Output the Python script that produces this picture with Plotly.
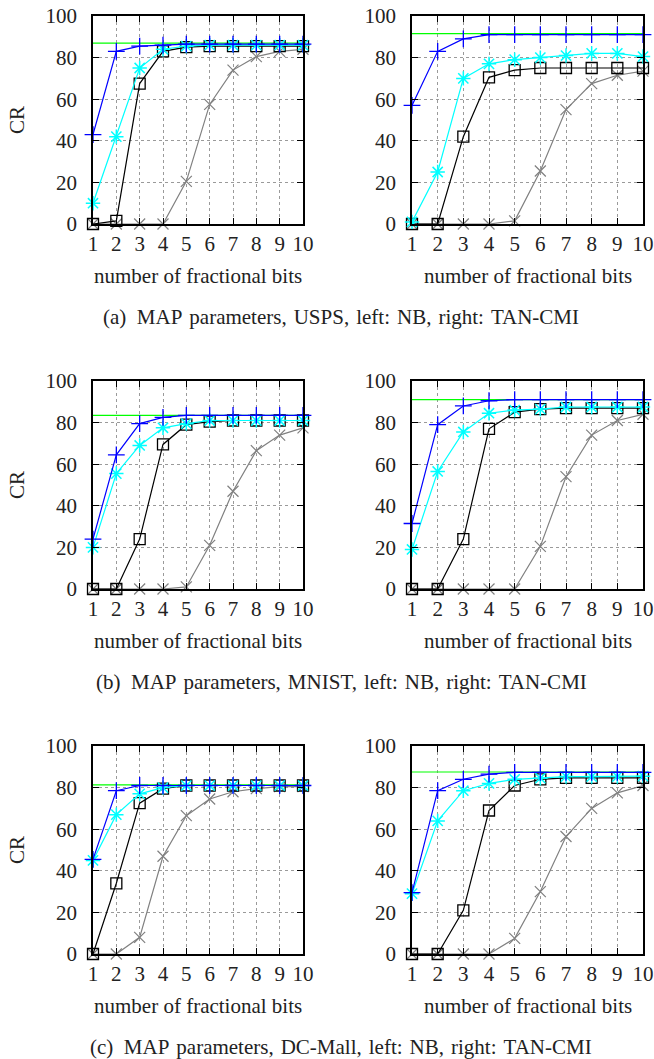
import plotly.graph_objects as go

# ---------------- data ----------------
x_bits = [1, 2, 3, 4, 5, 6, 7, 8, 9, 10]
tick_vals_x = [1, 2, 3, 4, 5, 6, 7, 8, 9, 10]
tick_vals_y = [0, 20, 40, 60, 80, 100]

# (a) USPS
usps_nb_plus = [43, 83, 85.5, 86, 86.5, 86.5, 86.5, 86.5, 86.5, 86.5]
usps_nb_star = [10, 42, 75, 84, 85.5, 86, 86, 86, 86, 86]
usps_nb_square = [0, 1.5, 67.5, 83, 85, 85.5, 85.5, 85.5, 85.5, 85.5]
usps_nb_cross = [0, 0, 0, 0, 20.5, 57.5, 74, 80.5, 83, 84]
usps_nb_ref = 87

usps_tan_plus = [57, 83, 89, 91, 91, 91, 91, 91, 91, 91]
usps_tan_star = [1, 25, 70, 77, 79, 80, 81, 82, 82, 80.5]
usps_tan_square = [0, 0, 42, 70.5, 74, 75, 75, 75, 75, 75]
usps_tan_cross = [0, 0, 0, 0, 1.5, 25.5, 55, 67.5, 71.5, 73.5]
usps_tan_ref = 91.5

# (b) MNIST
mnist_nb_plus = [24, 64.5, 79.5, 82.5, 83.5, 83.5, 83.5, 83.5, 83.5, 83.5]
mnist_nb_star = [20, 55.5, 69, 77.5, 79.5, 81, 81, 81, 81, 81]
mnist_nb_square = [0, 0, 24, 69.5, 79, 80.5, 81, 81, 81, 81]
mnist_nb_cross = [0, 0, 0, 0, 1, 21, 47, 66.5, 74, 77.5]
mnist_nb_ref = 83.5

mnist_tan_plus = [31.5, 79, 88, 90.5, 91, 91, 91, 91, 91, 91]
mnist_tan_star = [19, 56.5, 75.5, 84.5, 86, 86.5, 87.5, 87.5, 87.5, 87.5]
mnist_tan_square = [0, 0, 24, 77, 85, 86.5, 87, 87, 87, 87]
mnist_tan_cross = [0, 0, 0, 0, 0, 20.5, 54, 74, 81, 84]
mnist_tan_ref = 91

# (c) DC-Mall
dcmall_nb_plus = [45.5, 78.5, 81, 81, 81, 81, 81, 81, 81, 81]
dcmall_nb_star = [45, 67, 77, 80, 81, 81, 81, 81, 81, 81]
dcmall_nb_square = [0, 34, 72.5, 79.5, 81, 81, 81, 81, 81, 81]
dcmall_nb_cross = [0, 0, 8, 47, 66.5, 74.5, 78, 79.5, 80.5, 80.5]
dcmall_nb_ref = 81.3

dcmall_tan_plus = [29.5, 78.5, 84, 86.5, 87.3, 87.3, 87.3, 87.3, 87.3, 87.3]
dcmall_tan_star = [29, 64, 78.5, 82, 84, 84.5, 85.3, 85.3, 85.3, 85.5]
dcmall_tan_square = [0, 0, 21, 69, 81, 84, 84.7, 84.7, 84.7, 84.7]
dcmall_tan_cross = [0, 0, 0, 0, 7.5, 30, 56.5, 70, 77.5, 81]
dcmall_tan_ref = 87.5

captions = [
    "(a) MAP parameters, USPS, left: NB, right: TAN-CMI",
    "(b) MAP parameters, MNIST, left: NB, right: TAN-CMI",
    "(c) MAP parameters, DC-Mall, left: NB, right: TAN-CMI",
]
x_title = "number of fractional bits"
y_title = "CR"

panels = [
    (usps_nb_plus, usps_nb_star, usps_nb_square, usps_nb_cross, usps_nb_ref),
    (usps_tan_plus, usps_tan_star, usps_tan_square, usps_tan_cross, usps_tan_ref),
    (mnist_nb_plus, mnist_nb_star, mnist_nb_square, mnist_nb_cross, mnist_nb_ref),
    (mnist_tan_plus, mnist_tan_star, mnist_tan_square, mnist_tan_cross, mnist_tan_ref),
    (dcmall_nb_plus, dcmall_nb_star, dcmall_nb_square, dcmall_nb_cross, dcmall_nb_ref),
    (dcmall_tan_plus, dcmall_tan_star, dcmall_tan_square, dcmall_tan_cross, dcmall_tan_ref),
]

# ---------------- layout geometry (pixels) ----------------
W, H = 654, 1059
col_x = [(93, 303), (412, 643)]
row_y = [(16, 224), (381, 589), (746, 954)]
FONT = "Liberation Serif"
TXT = "#222222"

fig = go.Figure()

def px_to_dom_x(a, b):
    return [a / W, b / W]

def px_to_dom_y(top, bottom):
    return [1 - bottom / H, 1 - top / H]

for i, (plus, star, square, cross, ref) in enumerate(panels):
    r, c = divmod(i, 2)
    idx = i + 1
    xa = "x" if idx == 1 else f"x{idx}"
    ya = "y" if idx == 1 else f"y{idx}"
    common = dict(xaxis=xa, yaxis=ya, showlegend=False, cliponaxis=False, hoverinfo="skip")
    # reference level (green)
    fig.add_trace(go.Scatter(x=[x_bits[0], x_bits[-1]], y=[ref, ref], mode="lines",
                             line=dict(color="#00ff00", width=1.2), **common))
    fig.add_trace(go.Scatter(x=x_bits, y=cross, mode="lines+markers",
                             line=dict(color="#808080", width=1.2),
                             marker=dict(symbol="x-thin-open", size=11, color="#808080",
                                         line=dict(color="#808080", width=1.2)), **common))
    fig.add_trace(go.Scatter(x=x_bits, y=square, mode="lines+markers",
                             line=dict(color="black", width=1.2),
                             marker=dict(symbol="square-open", size=11, color="black",
                                         line=dict(color="black", width=1.3)), **common))
    fig.add_trace(go.Scatter(x=x_bits, y=star, mode="lines+markers",
                             line=dict(color="#00ffff", width=1.2),
                             marker=dict(symbol="asterisk-open", size=12, color="#00ffff",
                                         line=dict(color="#00ffff", width=1.5)), **common))
    fig.add_trace(go.Scatter(x=x_bits, y=plus, mode="lines+markers",
                             line=dict(color="#0000ff", width=1.2),
                             marker=dict(symbol="cross-thin-open", size=12, color="#0000ff",
                                         line=dict(color="#0000ff", width=1.3)), **common))

    axis_common = dict(showline=True, linecolor="black", linewidth=1.5, mirror="ticks",
                       ticks="inside", ticklen=6, tickwidth=1, tickcolor="black",
                       showgrid=True, gridcolor="#9a9a9a", griddash="dot", gridwidth=1,
                       zeroline=False, automargin=False,
                       tickfont=dict(family=FONT, size=21, color=TXT))
    xkey = "xaxis" if idx == 1 else f"xaxis{idx}"
    ykey = "yaxis" if idx == 1 else f"yaxis{idx}"
    fig.update_layout({
        xkey: dict(domain=px_to_dom_x(*col_x[c]), range=[1, 10], tickvals=tick_vals_x,
                   anchor=ya, ticklabelstandoff=0, **axis_common),
        ykey: dict(domain=px_to_dom_y(*row_y[r]), range=[0, 100], tickvals=tick_vals_y,
                   anchor=xa, ticklabelstandoff=10, **axis_common),
    })

annotations = []
for r in range(3):
    top, bottom = row_y[r]
    for c in range(2):
        x0, x1 = col_x[c]
        annotations.append(dict(x=(x0 + x1) / 2 / W, y=1 - (bottom + 52) / H,
                                xref="paper", yref="paper", text=x_title, showarrow=False,
                                font=dict(family=FONT, size=21, color=TXT),
                                xanchor="center", yanchor="middle"))
    annotations.append(dict(x=17 / W, y=1 - ((top + bottom) / 2) / H, xref="paper", yref="paper",
                            text=y_title, showarrow=False, textangle=-90,
                            font=dict(family=FONT, size=21, color=TXT),
                            xanchor="center", yanchor="middle"))
    cap_text = captions[r].replace(" ", "\u2002", 1).replace(" ", "\u2004")
    annotations.append(dict(x=341 / W, y=1 - (bottom + 93) / H, xref="paper", yref="paper",
                            text=cap_text, showarrow=False,
                            font=dict(family=FONT, size=21, color=TXT),
                            xanchor="center", yanchor="middle"))

fig.update_layout(template="none", width=W, height=H, margin=dict(l=0, r=0, t=0, b=0, pad=0),
                  font=dict(family=FONT, color=TXT),
                  paper_bgcolor="white", plot_bgcolor="white", annotations=annotations)

fig.write_html("out.html", config={"displayModeBar": False},
               post_script="document.body.style.margin='0';document.body.style.overflow='hidden';")
